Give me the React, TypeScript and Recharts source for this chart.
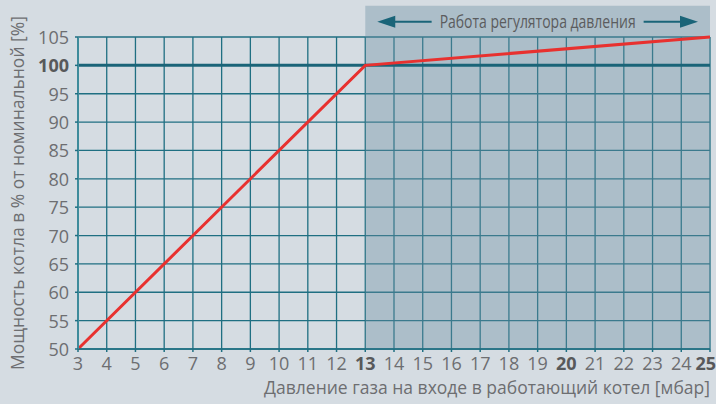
import {
  ComposedChart,
  Line,
  XAxis,
  YAxis,
  CartesianGrid,
  ReferenceArea,
  ReferenceLine,
} from "recharts";

const pressure = [3, 13, 25];
const power = [50, 100, 105];
const xTicks = [3, 4, 5, 6, 7, 8, 9, 10, 11, 12, 13, 14, 15, 16, 17, 18, 19, 20, 21, 22, 23, 24, 25];
const yTicks = [50, 55, 60, 65, 70, 75, 80, 85, 90, 95, 100, 105];
const boldX = [13, 20, 25];
const boldY = [100];
const regulatorFrom = 13;
const regulatorTo = 25;
const regulatorLabel = "Работа регулятора давления";
const xTitle = "Давление газа на входе в работающий котел [мбар]";
const yTitle = "Мощность котла в % от номинальной [%]";

const data = pressure.map((p, i) => ({ p, v: power[i] }));

const FONT = "'Open Sans', sans-serif";
const TEXT = "#6d6e71";
const GRID = "#1f6f82";

const XTick = (props: any) => {
  const { x, y, payload } = props;
  const bold = boldX.includes(payload.value);
  const last = payload.value === xTicks[xTicks.length - 1];
  return (
    <text x={last ? x + 6 : x} y={y + 16} textAnchor={last ? "end" : "middle"}
      fill={bold ? "#58595b" : TEXT}
      fontFamily={FONT} fontSize={18} fontWeight={bold ? 700 : 400}>
      {payload.value}
    </text>
  );
};

const YTick = (props: any) => {
  const { x, y, payload } = props;
  const bold = boldY.includes(payload.value);
  return (
    <text x={x - 4} y={y + 7} textAnchor="end" fill={bold ? "#58595b" : TEXT}
      fontFamily={FONT} fontSize={18} fontWeight={bold ? 700 : 400}>
      {payload.value}
    </text>
  );
};

const HeaderLabel = (props: any) => {
  const { x, y, width } = props.viewBox;
  const cx = x + width / 2;
  const cy = y + 16;
  const half = 98;
  const c = "#1a6478";
  return (
    <g>
      <text x={cx} y={cy + 6} textAnchor="middle" fill="#5b5c5e" fontFamily={FONT} fontSize={19}
        textLength={half * 2} lengthAdjust="spacingAndGlyphs">
        {regulatorLabel}
      </text>
      <line x1={x + 24} y1={cy} x2={cx - half - 8} y2={cy} stroke={c} strokeWidth={2} />
      <polygon points={`${x + 12},${cy} ${x + 30},${cy - 6} ${x + 30},${cy + 6}`} fill={c} />
      <line x1={cx + half + 8} y1={cy} x2={x + width - 24} y2={cy} stroke={c} strokeWidth={2} />
      <polygon points={`${x + width - 12},${cy} ${x + width - 30},${cy - 6} ${x + width - 30},${cy + 6}`} fill={c} />
    </g>
  );
};

export default function App() {
  return (
    <div style={{ position: "absolute", left: 0, top: 0, width: 716, height: 404, background: "#d5dce2" }}>
      <ComposedChart width={716} height={404} data={data}
        margin={{ top: 37, right: 6, left: 0, bottom: 0 }}>
        <CartesianGrid stroke={GRID} strokeWidth={1.3} />
        <ReferenceArea x1={regulatorFrom} x2={regulatorTo} y1={50} y2={110.5}
          ifOverflow="visible" fill="#6a8fa0" fillOpacity={0.38} stroke="none"
          label={<HeaderLabel />} />
        <XAxis dataKey="p" type="number" domain={[3, 25]} ticks={xTicks} interval={0}
          height={55} axisLine={{ stroke: GRID, strokeWidth: 1.5 }}
          tickLine={{ stroke: GRID, strokeWidth: 1.5 }} tickSize={3} tick={<XTick />}
          label={(p: any) => (
            <text x={p.viewBox.x + p.viewBox.width} y={p.viewBox.y + 45} textAnchor="end"
              fill={TEXT} fontFamily={FONT} fontSize={17.5}>
              {xTitle}
            </text>
          )} />
        <YAxis type="number" domain={[50, 105]} ticks={yTicks} interval={0} width={78}
          axisLine={{ stroke: "#3e8b9b", strokeWidth: 2 }}
          tickLine={{ stroke: GRID, strokeWidth: 1.5 }} tickSize={3} tick={<YTick />}
          label={(p: any) => (
            <text x={0} y={0} transform={`translate(24, ${p.viewBox.y + p.viewBox.height / 2}) rotate(-90)`}
              textAnchor="middle" fill={TEXT} fontFamily={FONT} fontSize={17.5}>
              {yTitle}
            </text>
          )} />
        <ReferenceLine y={100} stroke="#1a6478" strokeWidth={3} ifOverflow="visible"
          segment={[{ x: 2.9, y: 100 }, { x: 25.2, y: 100 }]} />
        <Line dataKey="v" stroke="#e8312f" strokeWidth={3} dot={false} isAnimationActive={false} />
      </ComposedChart>
    </div>
  );
}
